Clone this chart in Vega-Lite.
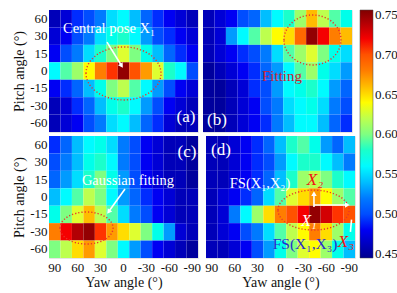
{
 "$schema": "https://vega.github.io/schema/vega-lite/v6.json",
 "background": "white",
 "padding": {"left": 12, "top": 9, "right": 4, "bottom": 2},
 "datasets": {
  "a": [
   {"yaw":90,"pitch":60,"v":0.46},{"yaw":75,"pitch":60,"v":0.47},{"yaw":60,"pitch":60,"v":0.49},{"yaw":45,"pitch":60,"v":0.50},{"yaw":30,"pitch":60,"v":0.52},{"yaw":15,"pitch":60,"v":0.55},{"yaw":0,"pitch":60,"v":0.56},{"yaw":-15,"pitch":60,"v":0.54},{"yaw":-30,"pitch":60,"v":0.51},{"yaw":-45,"pitch":60,"v":0.49},{"yaw":-60,"pitch":60,"v":0.48},{"yaw":-75,"pitch":60,"v":0.47},{"yaw":-90,"pitch":60,"v":0.46},
   {"yaw":90,"pitch":30,"v":0.47},{"yaw":75,"pitch":30,"v":0.48},{"yaw":60,"pitch":30,"v":0.50},{"yaw":45,"pitch":30,"v":0.52},{"yaw":30,"pitch":30,"v":0.55},{"yaw":15,"pitch":30,"v":0.57},{"yaw":0,"pitch":30,"v":0.58},{"yaw":-15,"pitch":30,"v":0.56},{"yaw":-30,"pitch":30,"v":0.53},{"yaw":-45,"pitch":30,"v":0.50},{"yaw":-60,"pitch":30,"v":0.49},{"yaw":-75,"pitch":30,"v":0.48},{"yaw":-90,"pitch":30,"v":0.47},
   {"yaw":90,"pitch":15,"v":0.48},{"yaw":75,"pitch":15,"v":0.50},{"yaw":60,"pitch":15,"v":0.52},{"yaw":45,"pitch":15,"v":0.55},{"yaw":30,"pitch":15,"v":0.58},{"yaw":15,"pitch":15,"v":0.60},{"yaw":0,"pitch":15,"v":0.63},{"yaw":-15,"pitch":15,"v":0.60},{"yaw":-30,"pitch":15,"v":0.57},{"yaw":-45,"pitch":15,"v":0.54},{"yaw":-60,"pitch":15,"v":0.51},{"yaw":-75,"pitch":15,"v":0.49},{"yaw":-90,"pitch":15,"v":0.48},
   {"yaw":90,"pitch":0,"v":0.56},{"yaw":75,"pitch":0,"v":0.59},{"yaw":60,"pitch":0,"v":0.61},{"yaw":45,"pitch":0,"v":0.64},{"yaw":30,"pitch":0,"v":0.68},{"yaw":15,"pitch":0,"v":0.71},{"yaw":0,"pitch":0,"v":0.75},{"yaw":-15,"pitch":0,"v":0.70},{"yaw":-30,"pitch":0,"v":0.67},{"yaw":-45,"pitch":0,"v":0.63},{"yaw":-60,"pitch":0,"v":0.58},{"yaw":-75,"pitch":0,"v":0.56},{"yaw":-90,"pitch":0,"v":0.50},
   {"yaw":90,"pitch":-15,"v":0.48},{"yaw":75,"pitch":-15,"v":0.49},{"yaw":60,"pitch":-15,"v":0.51},{"yaw":45,"pitch":-15,"v":0.54},{"yaw":30,"pitch":-15,"v":0.57},{"yaw":15,"pitch":-15,"v":0.60},{"yaw":0,"pitch":-15,"v":0.62},{"yaw":-15,"pitch":-15,"v":0.59},{"yaw":-30,"pitch":-15,"v":0.56},{"yaw":-45,"pitch":-15,"v":0.53},{"yaw":-60,"pitch":-15,"v":0.50},{"yaw":-75,"pitch":-15,"v":0.48},{"yaw":-90,"pitch":-15,"v":0.47},
   {"yaw":90,"pitch":-30,"v":0.46},{"yaw":75,"pitch":-30,"v":0.47},{"yaw":60,"pitch":-30,"v":0.49},{"yaw":45,"pitch":-30,"v":0.51},{"yaw":30,"pitch":-30,"v":0.54},{"yaw":15,"pitch":-30,"v":0.57},{"yaw":0,"pitch":-30,"v":0.58},{"yaw":-15,"pitch":-30,"v":0.56},{"yaw":-30,"pitch":-30,"v":0.53},{"yaw":-45,"pitch":-30,"v":0.50},{"yaw":-60,"pitch":-30,"v":0.48},{"yaw":-75,"pitch":-30,"v":0.47},{"yaw":-90,"pitch":-30,"v":0.46},
   {"yaw":90,"pitch":-60,"v":0.46},{"yaw":75,"pitch":-60,"v":0.47},{"yaw":60,"pitch":-60,"v":0.48},{"yaw":45,"pitch":-60,"v":0.50},{"yaw":30,"pitch":-60,"v":0.52},{"yaw":15,"pitch":-60,"v":0.55},{"yaw":0,"pitch":-60,"v":0.56},{"yaw":-15,"pitch":-60,"v":0.54},{"yaw":-30,"pitch":-60,"v":0.51},{"yaw":-45,"pitch":-60,"v":0.49},{"yaw":-60,"pitch":-60,"v":0.47},{"yaw":-75,"pitch":-60,"v":0.46},{"yaw":-90,"pitch":-60,"v":0.46}
  ],
  "b": [
   {"yaw":90,"pitch":60,"v":0.46},{"yaw":75,"pitch":60,"v":0.47},{"yaw":60,"pitch":60,"v":0.48},{"yaw":45,"pitch":60,"v":0.50},{"yaw":30,"pitch":60,"v":0.51},{"yaw":15,"pitch":60,"v":0.54},{"yaw":0,"pitch":60,"v":0.56},{"yaw":-15,"pitch":60,"v":0.58},{"yaw":-30,"pitch":60,"v":0.61},{"yaw":-45,"pitch":60,"v":0.66},{"yaw":-60,"pitch":60,"v":0.62},{"yaw":-75,"pitch":60,"v":0.59},{"yaw":-90,"pitch":60,"v":0.57},
   {"yaw":90,"pitch":30,"v":0.46},{"yaw":75,"pitch":30,"v":0.47},{"yaw":60,"pitch":30,"v":0.53},{"yaw":45,"pitch":30,"v":0.56},{"yaw":30,"pitch":30,"v":0.59},{"yaw":15,"pitch":30,"v":0.62},{"yaw":0,"pitch":30,"v":0.64},{"yaw":-15,"pitch":30,"v":0.65},{"yaw":-30,"pitch":30,"v":0.69},{"yaw":-45,"pitch":30,"v":0.75},{"yaw":-60,"pitch":30,"v":0.72},{"yaw":-75,"pitch":30,"v":0.68},{"yaw":-90,"pitch":30,"v":0.66},
   {"yaw":90,"pitch":15,"v":0.46},{"yaw":75,"pitch":15,"v":0.47},{"yaw":60,"pitch":15,"v":0.48},{"yaw":45,"pitch":15,"v":0.49},{"yaw":30,"pitch":15,"v":0.50},{"yaw":15,"pitch":15,"v":0.52},{"yaw":0,"pitch":15,"v":0.55},{"yaw":-15,"pitch":15,"v":0.59},{"yaw":-30,"pitch":15,"v":0.61},{"yaw":-45,"pitch":15,"v":0.63},{"yaw":-60,"pitch":15,"v":0.60},{"yaw":-75,"pitch":15,"v":0.57},{"yaw":-90,"pitch":15,"v":0.55},
   {"yaw":90,"pitch":0,"v":0.45},{"yaw":75,"pitch":0,"v":0.46},{"yaw":60,"pitch":0,"v":0.47},{"yaw":45,"pitch":0,"v":0.48},{"yaw":30,"pitch":0,"v":0.49},{"yaw":15,"pitch":0,"v":0.51},{"yaw":0,"pitch":0,"v":0.53},{"yaw":-15,"pitch":0,"v":0.56},{"yaw":-30,"pitch":0,"v":0.59},{"yaw":-45,"pitch":0,"v":0.61},{"yaw":-60,"pitch":0,"v":0.57},{"yaw":-75,"pitch":0,"v":0.55},{"yaw":-90,"pitch":0,"v":0.53},
   {"yaw":90,"pitch":-15,"v":0.45},{"yaw":75,"pitch":-15,"v":0.45},{"yaw":60,"pitch":-15,"v":0.46},{"yaw":45,"pitch":-15,"v":0.47},{"yaw":30,"pitch":-15,"v":0.49},{"yaw":15,"pitch":-15,"v":0.50},{"yaw":0,"pitch":-15,"v":0.53},{"yaw":-15,"pitch":-15,"v":0.56},{"yaw":-30,"pitch":-15,"v":0.57},{"yaw":-45,"pitch":-15,"v":0.58},{"yaw":-60,"pitch":-15,"v":0.56},{"yaw":-75,"pitch":-15,"v":0.53},{"yaw":-90,"pitch":-15,"v":0.51},
   {"yaw":90,"pitch":-30,"v":0.45},{"yaw":75,"pitch":-30,"v":0.45},{"yaw":60,"pitch":-30,"v":0.46},{"yaw":45,"pitch":-30,"v":0.47},{"yaw":30,"pitch":-30,"v":0.48},{"yaw":15,"pitch":-30,"v":0.50},{"yaw":0,"pitch":-30,"v":0.52},{"yaw":-15,"pitch":-30,"v":0.55},{"yaw":-30,"pitch":-30,"v":0.56},{"yaw":-45,"pitch":-30,"v":0.57},{"yaw":-60,"pitch":-30,"v":0.55},{"yaw":-75,"pitch":-30,"v":0.52},{"yaw":-90,"pitch":-30,"v":0.50},
   {"yaw":90,"pitch":-60,"v":0.45},{"yaw":75,"pitch":-60,"v":0.45},{"yaw":60,"pitch":-60,"v":0.46},{"yaw":45,"pitch":-60,"v":0.47},{"yaw":30,"pitch":-60,"v":0.48},{"yaw":15,"pitch":-60,"v":0.49},{"yaw":0,"pitch":-60,"v":0.52},{"yaw":-15,"pitch":-60,"v":0.54},{"yaw":-30,"pitch":-60,"v":0.56},{"yaw":-45,"pitch":-60,"v":0.56},{"yaw":-60,"pitch":-60,"v":0.54},{"yaw":-75,"pitch":-60,"v":0.51},{"yaw":-90,"pitch":-60,"v":0.49}
  ],
  "c": [
   {"yaw":90,"pitch":60,"v":0.49},{"yaw":75,"pitch":60,"v":0.51},{"yaw":60,"pitch":60,"v":0.54},{"yaw":45,"pitch":60,"v":0.56},{"yaw":30,"pitch":60,"v":0.57},{"yaw":15,"pitch":60,"v":0.55},{"yaw":0,"pitch":60,"v":0.52},{"yaw":-15,"pitch":60,"v":0.50},{"yaw":-30,"pitch":60,"v":0.48},{"yaw":-45,"pitch":60,"v":0.47},{"yaw":-60,"pitch":60,"v":0.46},{"yaw":-75,"pitch":60,"v":0.46},{"yaw":-90,"pitch":60,"v":0.45},
   {"yaw":90,"pitch":30,"v":0.50},{"yaw":75,"pitch":30,"v":0.52},{"yaw":60,"pitch":30,"v":0.54},{"yaw":45,"pitch":30,"v":0.57},{"yaw":30,"pitch":30,"v":0.58},{"yaw":15,"pitch":30,"v":0.56},{"yaw":0,"pitch":30,"v":0.52},{"yaw":-15,"pitch":30,"v":0.50},{"yaw":-30,"pitch":30,"v":0.48},{"yaw":-45,"pitch":30,"v":0.47},{"yaw":-60,"pitch":30,"v":0.46},{"yaw":-75,"pitch":30,"v":0.46},{"yaw":-90,"pitch":30,"v":0.45},
   {"yaw":90,"pitch":15,"v":0.51},{"yaw":75,"pitch":15,"v":0.53},{"yaw":60,"pitch":15,"v":0.55},{"yaw":45,"pitch":15,"v":0.58},{"yaw":30,"pitch":15,"v":0.60},{"yaw":15,"pitch":15,"v":0.57},{"yaw":0,"pitch":15,"v":0.53},{"yaw":-15,"pitch":15,"v":0.50},{"yaw":-30,"pitch":15,"v":0.48},{"yaw":-45,"pitch":15,"v":0.47},{"yaw":-60,"pitch":15,"v":0.46},{"yaw":-75,"pitch":15,"v":0.46},{"yaw":-90,"pitch":15,"v":0.45},
   {"yaw":90,"pitch":0,"v":0.54},{"yaw":75,"pitch":0,"v":0.56},{"yaw":60,"pitch":0,"v":0.59},{"yaw":45,"pitch":0,"v":0.62},{"yaw":30,"pitch":0,"v":0.60},{"yaw":15,"pitch":0,"v":0.56},{"yaw":0,"pitch":0,"v":0.53},{"yaw":-15,"pitch":0,"v":0.51},{"yaw":-30,"pitch":0,"v":0.49},{"yaw":-45,"pitch":0,"v":0.48},{"yaw":-60,"pitch":0,"v":0.47},{"yaw":-75,"pitch":0,"v":0.46},{"yaw":-90,"pitch":0,"v":0.46},
   {"yaw":90,"pitch":-15,"v":0.57},{"yaw":75,"pitch":-15,"v":0.60},{"yaw":60,"pitch":-15,"v":0.63},{"yaw":45,"pitch":-15,"v":0.66},{"yaw":30,"pitch":-15,"v":0.62},{"yaw":15,"pitch":-15,"v":0.59},{"yaw":0,"pitch":-15,"v":0.55},{"yaw":-15,"pitch":-15,"v":0.52},{"yaw":-30,"pitch":-15,"v":0.50},{"yaw":-45,"pitch":-15,"v":0.48},{"yaw":-60,"pitch":-15,"v":0.47},{"yaw":-75,"pitch":-15,"v":0.46},{"yaw":-90,"pitch":-15,"v":0.46},
   {"yaw":90,"pitch":-30,"v":0.68},{"yaw":75,"pitch":-30,"v":0.72},{"yaw":60,"pitch":-30,"v":0.74},{"yaw":45,"pitch":-30,"v":0.75},{"yaw":30,"pitch":-30,"v":0.71},{"yaw":15,"pitch":-30,"v":0.67},{"yaw":0,"pitch":-30,"v":0.65},{"yaw":-15,"pitch":-30,"v":0.63},{"yaw":-30,"pitch":-30,"v":0.60},{"yaw":-45,"pitch":-30,"v":0.57},{"yaw":-60,"pitch":-30,"v":0.53},{"yaw":-75,"pitch":-30,"v":0.47},{"yaw":-90,"pitch":-30,"v":0.46},
   {"yaw":90,"pitch":-60,"v":0.60},{"yaw":75,"pitch":-60,"v":0.62},{"yaw":60,"pitch":-60,"v":0.65},{"yaw":45,"pitch":-60,"v":0.67},{"yaw":30,"pitch":-60,"v":0.63},{"yaw":15,"pitch":-60,"v":0.60},{"yaw":0,"pitch":-60,"v":0.56},{"yaw":-15,"pitch":-60,"v":0.53},{"yaw":-30,"pitch":-60,"v":0.50},{"yaw":-45,"pitch":-60,"v":0.48},{"yaw":-60,"pitch":-60,"v":0.47},{"yaw":-75,"pitch":-60,"v":0.46},{"yaw":-90,"pitch":-60,"v":0.45}
  ],
  "d": [
   {"yaw":90,"pitch":60,"v":0.46},{"yaw":75,"pitch":60,"v":0.46},{"yaw":60,"pitch":60,"v":0.47},{"yaw":45,"pitch":60,"v":0.48},{"yaw":30,"pitch":60,"v":0.49},{"yaw":15,"pitch":60,"v":0.51},{"yaw":0,"pitch":60,"v":0.54},{"yaw":-15,"pitch":60,"v":0.58},{"yaw":-30,"pitch":60,"v":0.59},{"yaw":-45,"pitch":60,"v":0.57},{"yaw":-60,"pitch":60,"v":0.53},{"yaw":-75,"pitch":60,"v":0.51},{"yaw":-90,"pitch":60,"v":0.54},
   {"yaw":90,"pitch":30,"v":0.46},{"yaw":75,"pitch":30,"v":0.46},{"yaw":60,"pitch":30,"v":0.47},{"yaw":45,"pitch":30,"v":0.48},{"yaw":30,"pitch":30,"v":0.49},{"yaw":15,"pitch":30,"v":0.50},{"yaw":0,"pitch":30,"v":0.53},{"yaw":-15,"pitch":30,"v":0.56},{"yaw":-30,"pitch":30,"v":0.58},{"yaw":-45,"pitch":30,"v":0.58},{"yaw":-60,"pitch":30,"v":0.56},{"yaw":-75,"pitch":30,"v":0.54},{"yaw":-90,"pitch":30,"v":0.52},
   {"yaw":90,"pitch":15,"v":0.46},{"yaw":75,"pitch":15,"v":0.46},{"yaw":60,"pitch":15,"v":0.47},{"yaw":45,"pitch":15,"v":0.48},{"yaw":30,"pitch":15,"v":0.49},{"yaw":15,"pitch":15,"v":0.51},{"yaw":0,"pitch":15,"v":0.54},{"yaw":-15,"pitch":15,"v":0.58},{"yaw":-30,"pitch":15,"v":0.61},{"yaw":-45,"pitch":15,"v":0.62},{"yaw":-60,"pitch":15,"v":0.60},{"yaw":-75,"pitch":15,"v":0.58},{"yaw":-90,"pitch":15,"v":0.56},
   {"yaw":90,"pitch":0,"v":0.46},{"yaw":75,"pitch":0,"v":0.47},{"yaw":60,"pitch":0,"v":0.48},{"yaw":45,"pitch":0,"v":0.49},{"yaw":30,"pitch":0,"v":0.51},{"yaw":15,"pitch":0,"v":0.55},{"yaw":0,"pitch":0,"v":0.59},{"yaw":-15,"pitch":0,"v":0.63},{"yaw":-30,"pitch":0,"v":0.65},{"yaw":-45,"pitch":0,"v":0.67},{"yaw":-60,"pitch":0,"v":0.64},{"yaw":-75,"pitch":0,"v":0.61},{"yaw":-90,"pitch":0,"v":0.59},
   {"yaw":90,"pitch":-15,"v":0.46},{"yaw":75,"pitch":-15,"v":0.47},{"yaw":60,"pitch":-15,"v":0.52},{"yaw":45,"pitch":-15,"v":0.56},{"yaw":30,"pitch":-15,"v":0.61},{"yaw":15,"pitch":-15,"v":0.65},{"yaw":0,"pitch":-15,"v":0.68},{"yaw":-15,"pitch":-15,"v":0.70},{"yaw":-30,"pitch":-15,"v":0.72},{"yaw":-45,"pitch":-15,"v":0.75},{"yaw":-60,"pitch":-15,"v":0.73},{"yaw":-75,"pitch":-15,"v":0.71},{"yaw":-90,"pitch":-15,"v":0.70},
   {"yaw":90,"pitch":-30,"v":0.46},{"yaw":75,"pitch":-30,"v":0.47},{"yaw":60,"pitch":-30,"v":0.48},{"yaw":45,"pitch":-30,"v":0.50},{"yaw":30,"pitch":-30,"v":0.52},{"yaw":15,"pitch":-30,"v":0.55},{"yaw":0,"pitch":-30,"v":0.59},{"yaw":-15,"pitch":-30,"v":0.62},{"yaw":-30,"pitch":-30,"v":0.64},{"yaw":-45,"pitch":-30,"v":0.68},{"yaw":-60,"pitch":-30,"v":0.65},{"yaw":-75,"pitch":-30,"v":0.61},{"yaw":-90,"pitch":-30,"v":0.57},
   {"yaw":90,"pitch":-60,"v":0.46},{"yaw":75,"pitch":-60,"v":0.46},{"yaw":60,"pitch":-60,"v":0.47},{"yaw":45,"pitch":-60,"v":0.48},{"yaw":30,"pitch":-60,"v":0.50},{"yaw":15,"pitch":-60,"v":0.53},{"yaw":0,"pitch":-60,"v":0.57},{"yaw":-15,"pitch":-60,"v":0.60},{"yaw":-30,"pitch":-60,"v":0.63},{"yaw":-45,"pitch":-60,"v":0.64},{"yaw":-60,"pitch":-60,"v":0.61},{"yaw":-75,"pitch":-60,"v":0.57},{"yaw":-90,"pitch":-60,"v":0.54}
  ],
  "ann": [
   {"panel":"a","kind":"wtext","label":"Central pose X₁","ax":19,"ay":1.09},
   {"panel":"a","kind":"arrow","ax":21.6,"ay":1.84,"ax2":2.5,"ay2":3.2},
   {"panel":"a","kind":"head","ax":2.5,"ay":3.2},
   {"panel":"a","kind":"ell","ax":0,"ay":3.64},
   {"panel":"a","kind":"lab","label":"(a)","ax":-81.8,"ay":6.14},
   {"panel":"b","kind":"ell","ax":-45.8,"ay":1.72},
   {"panel":"b","kind":"rtext","label":"Fitting","ax":-5.9,"ay":3.79},
   {"panel":"b","kind":"lab","label":"(b)","ax":79.2,"ay":6.31},
   {"panel":"c","kind":"wtext","label":"Gaussian fitting","ax":-5.9,"ay":2.58},
   {"panel":"c","kind":"arrow","ax":-1.96,"ay":3.04,"ax2":19.5,"ay2":4.35},
   {"panel":"c","kind":"head","ax":19.5,"ay":4.35},
   {"panel":"c","kind":"ell","ax":48.4,"ay":5.28},
   {"panel":"c","kind":"lab","label":"(c)","ax":-83.1,"ay":0.92},
   {"panel":"d","kind":"wtext","label":"FS(X₁,X₂)","ax":26.8,"ay":2.75},
   {"panel":"d","kind":"rital","label":"X₂","ax":-45.1,"ay":2.53},
   {"panel":"d","kind":"arrow","ax":-43.8,"ay":4.07,"ax2":-43.8,"ay2":3.3},
   {"panel":"d","kind":"headU","ax":-43.8,"ay":3.3},
   {"panel":"d","kind":"arrow","ax":-43.8,"ay":3.96,"ax2":-87.5,"ay2":3.96},
   {"panel":"d","kind":"headR","ax":-87.5,"ay":3.96},
   {"panel":"d","kind":"witext","label":"X₁","ax":-37.3,"ay":4.88},
   {"panel":"d","kind":"rital","label":"X₃","ax":-85.7,"ay":6.08},
   {"panel":"d","kind":"arrow","ax":-91.5,"ay":5.5,"ax2":-93,"ay2":4.8},
   {"panel":"d","kind":"btext","label":"FS(X₁,X₃)","ax":-32.1,"ay":6.2},
   {"panel":"d","kind":"ell","ax":-43.2,"ay":4.25},
   {"panel":"d","kind":"lab","label":"(d)","ax":77.9,"ay":0.8}
  ]
 },
 "spacing": 2,
 "vconcat": [
  {"spacing": 3, "hconcat": [
   {"width": 149, "height": 122,
    "layer": [
     {"data": {"name": "a"}, "mark": {"type": "rect"},
      "encoding": {
       "x": {"field": "yaw", "type": "ordinal", "sort": [90,75,60,45,30,15,0,-15,-30,-45,-60,-75,-90], "scale": {"paddingInner": 0, "paddingOuter": 0}, "axis": null},
       "y": {"field": "pitch", "type": "ordinal", "sort": [60,30,15,0,-15,-30,-60], "scale": {"paddingInner": 0, "paddingOuter": 0}, "axis": {"title": "Pitch angle (°)"}},
       "color": {"field": "v", "type": "quantitative", "scale": {"domain": [0.445, 0.756], "range": ["#00008f","#0000ff","#0080ff","#00ffff","#80ff80","#ffff00","#ff8000","#ff0000","#800000"]}, "legend": {"title": null, "values": [0.45,0.5,0.55,0.6,0.65,0.7,0.75], "format": ".2f"}}
      }},
     {"data": {"name": "ann"}, "transform": [{"filter": "datum.panel === 'a'"}],
      "encoding": {
       "x": {"field": "ax", "type": "quantitative", "scale": {"domain": [97.5, -97.5], "nice": false, "zero": false}, "axis": null},
       "y": {"field": "ay", "type": "quantitative", "scale": {"domain": [0, 7], "reverse": true, "nice": false, "zero": false}, "axis": null}
      },
      "layer": [
       {"transform": [{"filter": "datum.kind === 'ell'"}], "mark": {"type": "point", "shape": "M -1 0 A 1 0.707 0 1 1 1 0 A 1 0.707 0 1 1 -1 0 Z", "size": 5625, "filled": false, "color": "#e8342c", "strokeWidth": 1.4, "strokeDash": [1.2, 2], "opacity": 1}},
       {"transform": [{"filter": "datum.kind === 'arrow'"}], "mark": {"type": "rule", "color": "white", "strokeWidth": 1.6}, "encoding": {"x2": {"field": "ax2"}, "y2": {"field": "ay2"}}},
       {"transform": [{"filter": "datum.kind === 'head'"}], "mark": {"type": "point", "shape": "triangle-up", "filled": true, "color": "white", "size": 30, "angle": 148, "opacity": 1}},
       {"transform": [{"filter": "datum.kind === 'wtext'"}], "mark": {"type": "text", "color": "white", "fontSize": 14.5, "font": "Liberation Serif"}, "encoding": {"text": {"field": "label"}}},
       {"transform": [{"filter": "datum.kind === 'lab'"}], "mark": {"type": "text", "color": "white", "fontSize": 17, "font": "Liberation Serif"}, "encoding": {"text": {"field": "label"}}}
      ]}
    ],
    "resolve": {"scale": {"x": "independent", "y": "independent"}}
   },
   {"width": 149, "height": 122,
    "layer": [
     {"data": {"name": "b"}, "mark": {"type": "rect"},
      "encoding": {
       "x": {"field": "yaw", "type": "ordinal", "sort": [90,75,60,45,30,15,0,-15,-30,-45,-60,-75,-90], "scale": {"paddingInner": 0, "paddingOuter": 0}, "axis": null},
       "y": {"field": "pitch", "type": "ordinal", "sort": [60,30,15,0,-15,-30,-60], "scale": {"paddingInner": 0, "paddingOuter": 0}, "axis": null},
       "color": {"field": "v", "type": "quantitative", "scale": {"domain": [0.445, 0.756], "range": ["#00008f","#0000ff","#0080ff","#00ffff","#80ff80","#ffff00","#ff8000","#ff0000","#800000"]}, "legend": {"title": null, "values": [0.45,0.5,0.55,0.6,0.65,0.7,0.75], "format": ".2f"}}
      }},
     {"data": {"name": "ann"}, "transform": [{"filter": "datum.panel === 'b'"}],
      "encoding": {
       "x": {"field": "ax", "type": "quantitative", "scale": {"domain": [97.5, -97.5], "nice": false, "zero": false}, "axis": null},
       "y": {"field": "ay", "type": "quantitative", "scale": {"domain": [0, 7], "reverse": true, "nice": false, "zero": false}, "axis": null}
      },
      "layer": [
       {"transform": [{"filter": "datum.kind === 'ell'"}], "mark": {"type": "point", "shape": "M -1 0 A 1 0.877 0 1 1 1 0 A 1 0.877 0 1 1 -1 0 Z", "size": 3249, "filled": false, "color": "#e8342c", "strokeWidth": 1.4, "strokeDash": [1.2, 2], "opacity": 1}},
       {"transform": [{"filter": "datum.kind === 'rtext'"}], "mark": {"type": "text", "color": "#cc2333", "fontSize": 15, "font": "Liberation Serif"}, "encoding": {"text": {"field": "label"}}},
       {"transform": [{"filter": "datum.kind === 'lab'"}], "mark": {"type": "text", "color": "white", "fontSize": 17, "font": "Liberation Serif"}, "encoding": {"text": {"field": "label"}}}
      ]}
    ],
    "resolve": {"scale": {"x": "independent", "y": "independent"}}
   }
  ]},
  {"spacing": 3, "hconcat": [
   {"width": 149, "height": 122,
    "layer": [
     {"data": {"name": "c"}, "mark": {"type": "rect"},
      "encoding": {
       "x": {"field": "yaw", "type": "ordinal", "sort": [90,75,60,45,30,15,0,-15,-30,-45,-60,-75,-90], "scale": {"paddingInner": 0, "paddingOuter": 0}, "axis": {"title": "Yaw angle (°)", "labelAngle": 0, "labelExpr": "abs(datum.value) % 30 === 0 ? datum.label : ''"}},
       "y": {"field": "pitch", "type": "ordinal", "sort": [60,30,15,0,-15,-30,-60], "scale": {"paddingInner": 0, "paddingOuter": 0}, "axis": {"title": "Pitch angle (°)"}},
       "color": {"field": "v", "type": "quantitative", "scale": {"domain": [0.445, 0.756], "range": ["#00008f","#0000ff","#0080ff","#00ffff","#80ff80","#ffff00","#ff8000","#ff0000","#800000"]}, "legend": {"title": null, "values": [0.45,0.5,0.55,0.6,0.65,0.7,0.75], "format": ".2f"}}
      }},
     {"data": {"name": "ann"}, "transform": [{"filter": "datum.panel === 'c'"}],
      "encoding": {
       "x": {"field": "ax", "type": "quantitative", "scale": {"domain": [97.5, -97.5], "nice": false, "zero": false}, "axis": null},
       "y": {"field": "ay", "type": "quantitative", "scale": {"domain": [0, 7], "reverse": true, "nice": false, "zero": false}, "axis": null}
      },
      "layer": [
       {"transform": [{"filter": "datum.kind === 'ell'"}], "mark": {"type": "point", "shape": "M -1 0 A 1 0.604 0 1 1 1 0 A 1 0.604 0 1 1 -1 0 Z", "size": 2809, "filled": false, "color": "#e8342c", "strokeWidth": 1.4, "strokeDash": [1.2, 2], "opacity": 1}},
       {"transform": [{"filter": "datum.kind === 'arrow'"}], "mark": {"type": "rule", "color": "white", "strokeWidth": 1.6}, "encoding": {"x2": {"field": "ax2"}, "y2": {"field": "ay2"}}},
       {"transform": [{"filter": "datum.kind === 'head'"}], "mark": {"type": "point", "shape": "triangle-up", "filled": true, "color": "white", "size": 30, "angle": 216, "opacity": 1}},
       {"transform": [{"filter": "datum.kind === 'wtext'"}], "mark": {"type": "text", "color": "white", "fontSize": 14.5, "font": "Liberation Serif"}, "encoding": {"text": {"field": "label"}}},
       {"transform": [{"filter": "datum.kind === 'lab'"}], "mark": {"type": "text", "color": "white", "fontSize": 17, "font": "Liberation Serif"}, "encoding": {"text": {"field": "label"}}}
      ]}
    ],
    "resolve": {"scale": {"x": "independent", "y": "independent"}}
   },
   {"width": 149, "height": 122,
    "layer": [
     {"data": {"name": "d"}, "mark": {"type": "rect"},
      "encoding": {
       "x": {"field": "yaw", "type": "ordinal", "sort": [90,75,60,45,30,15,0,-15,-30,-45,-60,-75,-90], "scale": {"paddingInner": 0, "paddingOuter": 0}, "axis": {"title": "Yaw angle (°)", "labelAngle": 0, "labelExpr": "abs(datum.value) % 30 === 0 ? datum.label : ''"}},
       "y": {"field": "pitch", "type": "ordinal", "sort": [60,30,15,0,-15,-30,-60], "scale": {"paddingInner": 0, "paddingOuter": 0}, "axis": null},
       "color": {"field": "v", "type": "quantitative", "scale": {"domain": [0.445, 0.756], "range": ["#00008f","#0000ff","#0080ff","#00ffff","#80ff80","#ffff00","#ff8000","#ff0000","#800000"]}, "legend": {"title": null, "values": [0.45,0.5,0.55,0.6,0.65,0.7,0.75], "format": ".2f"}}
      }},
     {"data": {"name": "ann"}, "transform": [{"filter": "datum.panel === 'd'"}],
      "encoding": {
       "x": {"field": "ax", "type": "quantitative", "scale": {"domain": [97.5, -97.5], "nice": false, "zero": false}, "axis": null},
       "y": {"field": "ay", "type": "quantitative", "scale": {"domain": [0, 7], "reverse": true, "nice": false, "zero": false}, "axis": null}
      },
      "layer": [
       {"transform": [{"filter": "datum.kind === 'ell'"}], "mark": {"type": "point", "shape": "M -1 0 A 1 0.563 0 1 1 1 0 A 1 0.563 0 1 1 -1 0 Z", "size": 5041, "filled": false, "color": "#e8342c", "strokeWidth": 1.4, "strokeDash": [1.2, 2], "opacity": 1}},
       {"transform": [{"filter": "datum.kind === 'arrow'"}], "mark": {"type": "rule", "color": "white", "strokeWidth": 1.6}, "encoding": {"x2": {"field": "ax2"}, "y2": {"field": "ay2"}}},
       {"transform": [{"filter": "datum.kind === 'headU'"}], "mark": {"type": "point", "shape": "triangle-up", "filled": true, "color": "white", "size": 30, "angle": 0, "opacity": 1}},
       {"transform": [{"filter": "datum.kind === 'headR'"}], "mark": {"type": "point", "shape": "triangle-up", "filled": true, "color": "white", "size": 30, "angle": 90, "opacity": 1}},
       {"transform": [{"filter": "datum.kind === 'wtext'"}], "mark": {"type": "text", "color": "white", "fontSize": 14.5, "font": "Liberation Serif"}, "encoding": {"text": {"field": "label"}}},
       {"transform": [{"filter": "datum.kind === 'witext'"}], "mark": {"type": "text", "color": "white", "fontSize": 16, "fontStyle": "italic", "font": "Liberation Serif"}, "encoding": {"text": {"field": "label"}}},
       {"transform": [{"filter": "datum.kind === 'rital'"}], "mark": {"type": "text", "color": "#ee1515", "fontSize": 17, "fontStyle": "italic", "font": "Liberation Serif"}, "encoding": {"text": {"field": "label"}}},
       {"transform": [{"filter": "datum.kind === 'btext'"}], "mark": {"type": "text", "color": "#2a2ad0", "fontSize": 15.5, "font": "Liberation Serif"}, "encoding": {"text": {"field": "label"}}},
       {"transform": [{"filter": "datum.kind === 'lab'"}], "mark": {"type": "text", "color": "white", "fontSize": 17, "font": "Liberation Serif"}, "encoding": {"text": {"field": "label"}}}
      ]}
    ],
    "resolve": {"scale": {"x": "independent", "y": "independent"}}
   }
  ]}
 ],
 "resolve": {"scale": {"color": "shared"}, "legend": {"color": "shared"}},
 "config": {
  "view": {"stroke": "#e4e4e4", "strokeWidth": 1},
  "font": "Liberation Serif",
  "axis": {"labelFont": "Liberation Serif", "labelFontSize": 13, "labelColor": "#111", "titleFont": "Liberation Serif", "titleFontSize": 14, "titleFontWeight": "normal", "titleColor": "#111", "ticks": false, "domain": false, "grid": false, "labelPadding": 2, "titlePadding": 3},
  "axisX": {"labelPadding": 3, "titlePadding": 1},
  "legend": {"gradientLength": 248, "gradientThickness": 13, "labelFont": "Liberation Serif", "labelFontSize": 13, "labelColor": "#111", "offset": 2, "labelOffset": 3, "gradientStrokeColor": "#444", "gradientStrokeWidth": 0.5, "padding": 0}
 }
}
